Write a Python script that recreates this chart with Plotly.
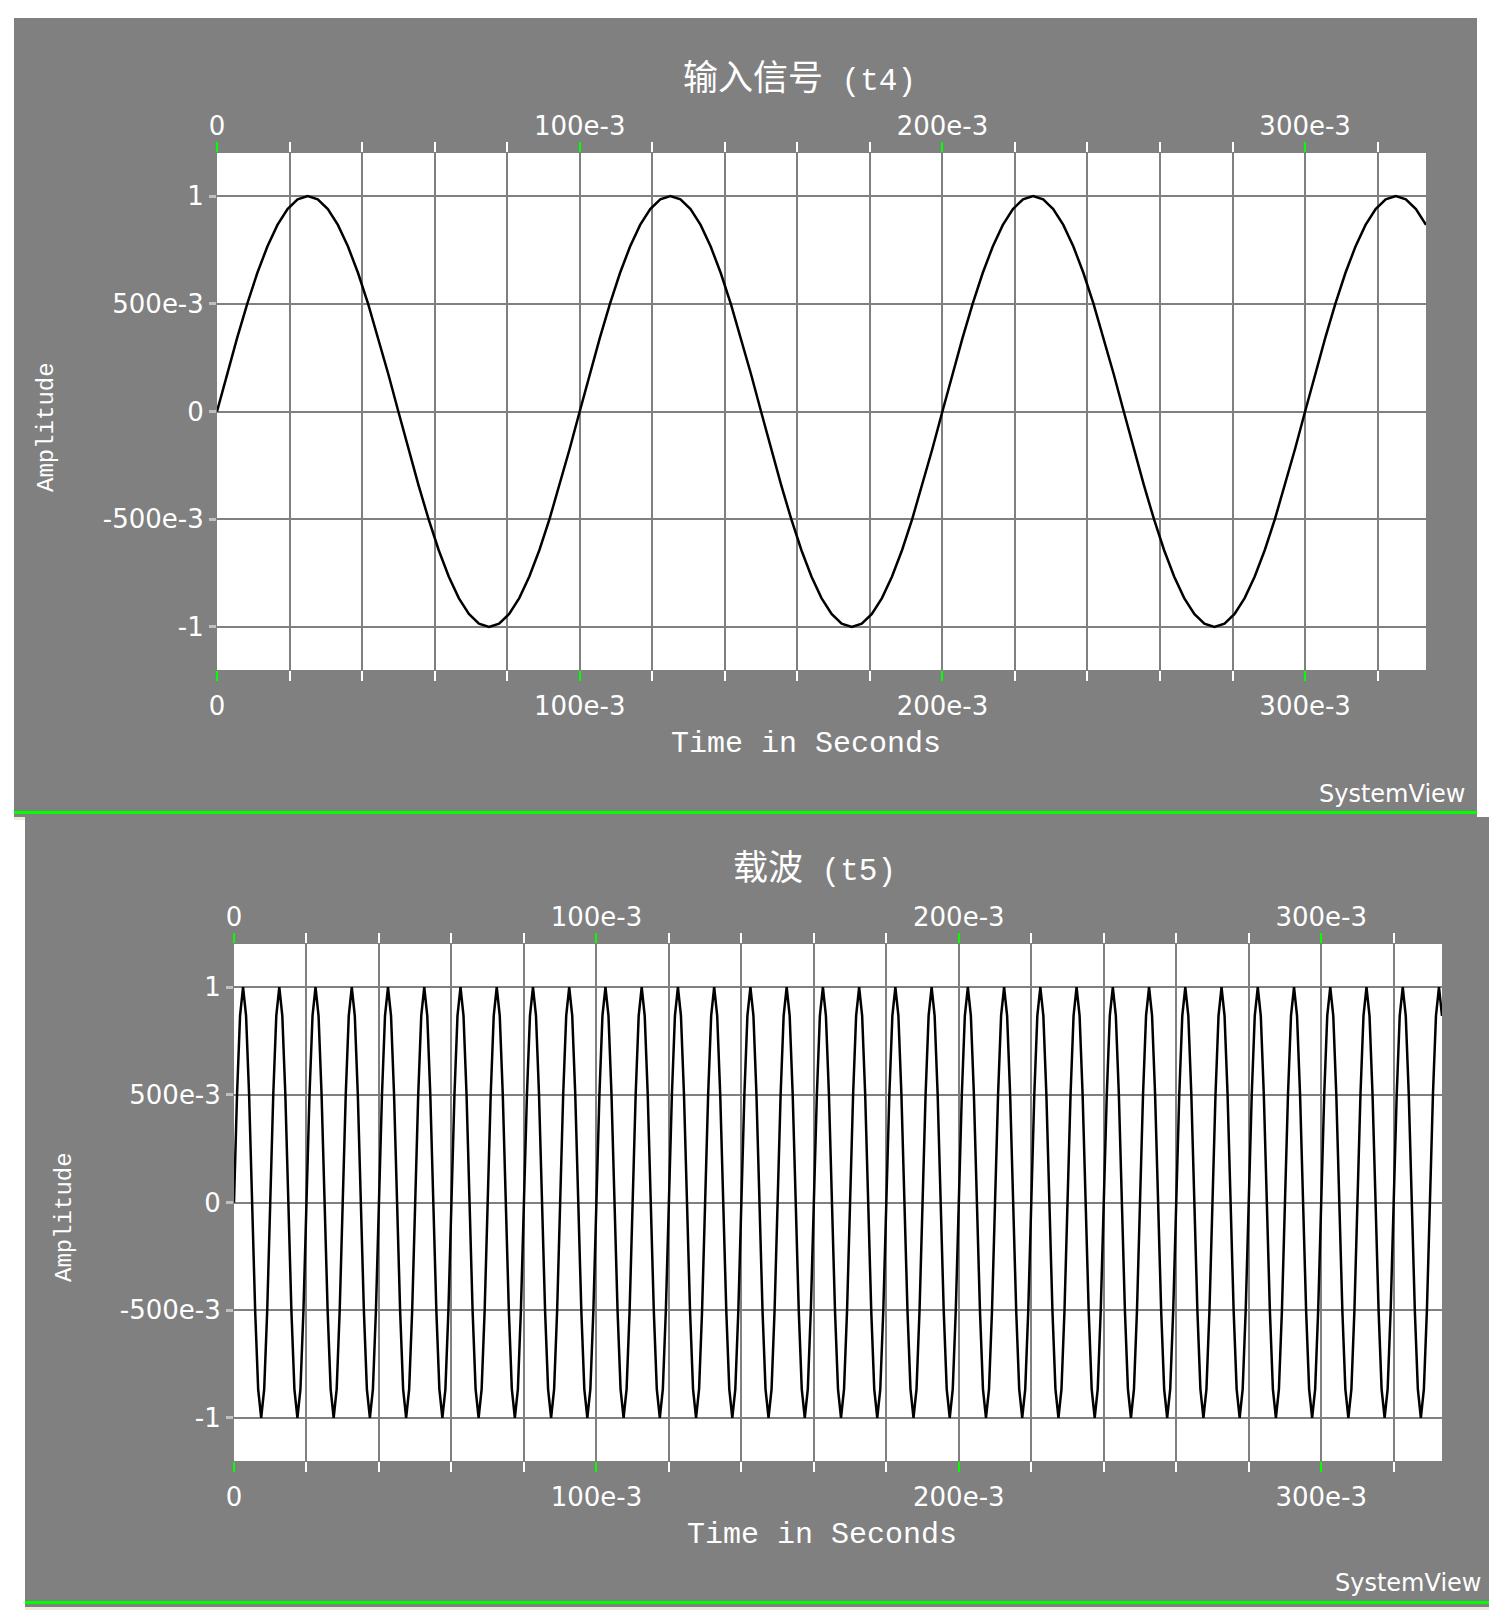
import plotly.graph_objects as go

W, H = 1489, 1618

# ---------------- data ----------------
T_END = 1 / 3          # visible time span (s), 0 .. 333.3e-3
INPUT_DT = 1 / 360     # sample spacing of the input-signal trace (s)
CARRIER_DT = 1 / 1200  # sample spacing of the carrier trace (s)

# 输入信号 (t4): amplitude samples
input_signal = [
    0, .174, .342, .5, .643, .766, .866, .94, .985, 1, .985, .94, .866, .766, .643, .5, .342, .174,
    0, -.174, -.342, -.5, -.643, -.766, -.866, -.94, -.985, -1, -.985, -.94, -.866, -.766, -.643, -.5, -.342, -.174,
    0, .174, .342, .5, .643, .766, .866, .94, .985, 1, .985, .94, .866, .766, .643, .5, .342, .174,
    0, -.174, -.342, -.5, -.643, -.766, -.866, -.94, -.985, -1, -.985, -.94, -.866, -.766, -.643, -.5, -.342, -.174,
    0, .174, .342, .5, .643, .766, .866, .94, .985, 1, .985, .94, .866, .766, .643, .5, .342, .174,
    0, -.174, -.342, -.5, -.643, -.766, -.866, -.94, -.985, -1, -.985, -.94, -.866, -.766, -.643, -.5, -.342, -.174,
    0, .174, .342, .5, .643, .766, .866, .94, .985, 1, .985, .94, .866,
]

# 载波 (t5): amplitude samples
carrier = [
    0, .5, .866, 1, .866, .5, 0, -.5, -.866, -1, -.866, -.5,
    0, .5, .866, 1, .866, .5, 0, -.5, -.866, -1, -.866, -.5,
    0, .5, .866, 1, .866, .5, 0, -.5, -.866, -1, -.866, -.5,
    0, .5, .866, 1, .866, .5, 0, -.5, -.866, -1, -.866, -.5,
    0, .5, .866, 1, .866, .5, 0, -.5, -.866, -1, -.866, -.5,
    0, .5, .866, 1, .866, .5, 0, -.5, -.866, -1, -.866, -.5,
    0, .5, .866, 1, .866, .5, 0, -.5, -.866, -1, -.866, -.5,
    0, .5, .866, 1, .866, .5, 0, -.5, -.866, -1, -.866, -.5,
    0, .5, .866, 1, .866, .5, 0, -.5, -.866, -1, -.866, -.5,
    0, .5, .866, 1, .866, .5, 0, -.5, -.866, -1, -.866, -.5,
    0, .5, .866, 1, .866, .5, 0, -.5, -.866, -1, -.866, -.5,
    0, .5, .866, 1, .866, .5, 0, -.5, -.866, -1, -.866, -.5,
    0, .5, .866, 1, .866, .5, 0, -.5, -.866, -1, -.866, -.5,
    0, .5, .866, 1, .866, .5, 0, -.5, -.866, -1, -.866, -.5,
    0, .5, .866, 1, .866, .5, 0, -.5, -.866, -1, -.866, -.5,
    0, .5, .866, 1, .866, .5, 0, -.5, -.866, -1, -.866, -.5,
    0, .5, .866, 1, .866, .5, 0, -.5, -.866, -1, -.866, -.5,
    0, .5, .866, 1, .866, .5, 0, -.5, -.866, -1, -.866, -.5,
    0, .5, .866, 1, .866, .5, 0, -.5, -.866, -1, -.866, -.5,
    0, .5, .866, 1, .866, .5, 0, -.5, -.866, -1, -.866, -.5,
    0, .5, .866, 1, .866, .5, 0, -.5, -.866, -1, -.866, -.5,
    0, .5, .866, 1, .866, .5, 0, -.5, -.866, -1, -.866, -.5,
    0, .5, .866, 1, .866, .5, 0, -.5, -.866, -1, -.866, -.5,
    0, .5, .866, 1, .866, .5, 0, -.5, -.866, -1, -.866, -.5,
    0, .5, .866, 1, .866, .5, 0, -.5, -.866, -1, -.866, -.5,
    0, .5, .866, 1, .866, .5, 0, -.5, -.866, -1, -.866, -.5,
    0, .5, .866, 1, .866, .5, 0, -.5, -.866, -1, -.866, -.5,
    0, .5, .866, 1, .866, .5, 0, -.5, -.866, -1, -.866, -.5,
    0, .5, .866, 1, .866, .5, 0, -.5, -.866, -1, -.866, -.5,
    0, .5, .866, 1, .866, .5, 0, -.5, -.866, -1, -.866, -.5,
    0, .5, .866, 1, .866, .5, 0, -.5, -.866, -1, -.866, -.5,
    0, .5, .866, 1, .866, .5, 0, -.5, -.866, -1, -.866, -.5,
    0, .5, .866, 1, .866, .5, 0, -.5, -.866, -1, -.866, -.5,
    0, .5, .866, 1, .866,
]

x_major_ticks = [0, 0.1, 0.2, 0.3]
x_major_labels = ["0", "100e-3", "200e-3", "300e-3"]
x_minor_ticks = [0.02, 0.04, 0.06, 0.08, 0.12, 0.14, 0.16, 0.18,
                 0.22, 0.24, 0.26, 0.28, 0.32]
y_ticks = [-1, -0.5, 0, 0.5, 1]
y_labels = ["-1", "-500e-3", "0", "500e-3", "1"]

titles = ["输入信号", "载波"]
title_tags = ["(t4)", "(t5)"]
x_title = "Time in Seconds"
y_title = "Amplitude"
brand = "SystemView"

# ---------------- styling ----------------
PANEL = "#808080"
GRID = "#808080"
GREEN = "#00FF00"
BEIGE = "#ECE9D8"
TICK_FONT = dict(family="DejaVu Sans", size=26, color="white")


def px(x):
    return x / W


def py(y):
    return 1 - y / H


# plot-area pixel boxes (left, top, right, bottom)
boxes = [(217, 153, 1426, 670), (234, 944, 1442, 1461)]
panels = [(14, 18, 1477, 817, 811, 814), (25, 817, 1489, 1607, 1601, 1604)]

fig = go.Figure()

fig.add_trace(go.Scatter(y=input_signal, x0=0, dx=INPUT_DT, mode="lines",
                         line=dict(color="black", width=2.5),
                         xaxis="x", yaxis="y", showlegend=False, hoverinfo="skip"))
fig.add_trace(go.Scatter(y=carrier, x0=0, dx=CARRIER_DT, mode="lines",
                         line=dict(color="black", width=2.5),
                         xaxis="x2", yaxis="y2", showlegend=False, hoverinfo="skip"))
# carriers for the top-side label axes
fig.add_trace(go.Scatter(x=[0], y=[0], mode="markers", marker=dict(opacity=0),
                         xaxis="x3", yaxis="y", showlegend=False, hoverinfo="skip"))
fig.add_trace(go.Scatter(x=[0], y=[0], mode="markers", marker=dict(opacity=0),
                         xaxis="x4", yaxis="y2", showlegend=False, hoverinfo="skip"))

shapes = []
for (x0, y0, x1, y1, g0, g1) in panels:
    shapes.append(dict(type="rect", xref="paper", yref="paper", layer="below",
                       x0=px(x0), x1=px(x1), y0=py(y1), y1=py(y0),
                       fillcolor=PANEL, line=dict(width=0)))
    shapes.append(dict(type="rect", xref="paper", yref="paper", layer="below",
                       x0=px(x0), x1=px(x1), y0=py(g1), y1=py(g0),
                       fillcolor=GREEN, line=dict(width=0)))
shapes.append(dict(type="rect", xref="paper", yref="paper", layer="below",
                   x0=px(14), x1=px(25), y0=py(820), y1=py(817),
                   fillcolor=BEIGE, line=dict(width=0)))
shapes.append(dict(type="rect", xref="paper", yref="paper", layer="below",
                   x0=px(25), x1=px(1489), y0=py(1610), y1=py(1607),
                   fillcolor=BEIGE, line=dict(width=0)))
for (l, t, r, b) in boxes:
    shapes.append(dict(type="rect", xref="paper", yref="paper", layer="below",
                       x0=px(l), x1=px(r), y0=py(b), y1=py(t),
                       fillcolor="white", line=dict(width=0)))

layout = dict(
    width=W, height=H,
    margin=dict(l=0, r=0, t=0, b=0, pad=0, autoexpand=False),
    paper_bgcolor="white", plot_bgcolor="rgba(0,0,0,0)",
    shapes=shapes, showlegend=False,
)

for i, (l, t, r, b) in enumerate(boxes):
    xa = "xaxis" if i == 0 else "xaxis2"
    ya = "yaxis" if i == 0 else "yaxis2"
    xt = "xaxis3" if i == 0 else "xaxis4"
    yid = "y" if i == 0 else "y2"
    xid = "x" if i == 0 else "x2"
    layout[xa] = dict(
        domain=[px(l), px(r)], anchor=yid, range=[0, T_END],
        tickmode="array", tickvals=x_major_ticks, ticktext=x_major_labels,
        ticks="outside", ticklen=10, tickwidth=2, tickcolor=GREEN,
        mirror="ticks", showline=False, zeroline=False,
        showgrid=True, gridcolor=GRID, gridwidth=2,
        tickfont=TICK_FONT, ticklabelstandoff=3,
        minor=dict(tickmode="array", tickvals=x_minor_ticks, ticks="outside",
                   ticklen=10, tickwidth=2, tickcolor="white",
                   showgrid=True, gridcolor=GRID, gridwidth=2),
        fixedrange=True,
    )
    layout[xt] = dict(
        overlaying=xid, anchor=yid, side="top", range=[0, T_END],
        tickmode="array", tickvals=x_major_ticks, ticktext=x_major_labels,
        ticks="", showgrid=False, zeroline=False, showline=False,
        tickfont=TICK_FONT, ticklabelstandoff=12, fixedrange=True,
    )
    layout[ya] = dict(
        domain=[py(b), py(t)], anchor=xid, range=[-1.2, 1.2],
        tickmode="array", tickvals=y_ticks, ticktext=y_labels,
        ticks="outside", ticklen=7, tickwidth=3, tickcolor="#C0C0C0",
        showgrid=True, gridcolor=GRID, gridwidth=2, zeroline=False,
        showline=False, tickfont=TICK_FONT, ticklabelstandoff=0,
        fixedrange=True,
    )

mono = "Liberation Mono"
annotations = []
title_pos = [(681, 74), (731, 864)]
xtitle_pos = [(806, 744), (822, 1535)]
ytitle_pos = [(47, 427), (64, 1217)]
brand_pos = [(1467, 794), (1483, 1583)]
for i in range(2):
    annotations.append(dict(
        xref="paper", yref="paper", x=px(title_pos[i][0]), y=py(title_pos[i][1]),
        xanchor="left", yanchor="middle", showarrow=False,
        text=titles[i] + '<span style="font-family:Liberation Mono;font-size:31px"> '
             + title_tags[i] + "</span>",
        font=dict(family="Noto Sans CJK SC", size=35, color="white")))
    annotations.append(dict(
        xref="paper", yref="paper", x=px(xtitle_pos[i][0]), y=py(xtitle_pos[i][1]),
        xanchor="center", yanchor="middle", showarrow=False, text=x_title,
        font=dict(family=mono, size=30, color="white")))
    annotations.append(dict(
        xref="paper", yref="paper", x=px(ytitle_pos[i][0]), y=py(ytitle_pos[i][1]),
        xanchor="center", yanchor="middle", showarrow=False, text=y_title,
        textangle=-90, font=dict(family=mono, size=24, color="white")))
    annotations.append(dict(
        xref="paper", yref="paper", x=px(brand_pos[i][0]), y=py(brand_pos[i][1]),
        xanchor="right", yanchor="middle", showarrow=False, text=brand,
        font=dict(family="DejaVu Sans", size=24, color="white")))
layout["annotations"] = annotations

fig.update_layout(**layout)

fig.write_html("out.html", config={"displayModeBar": False, "staticPlot": True},
               post_script="document.body.style.margin='0';document.body.style.overflow='hidden';")
